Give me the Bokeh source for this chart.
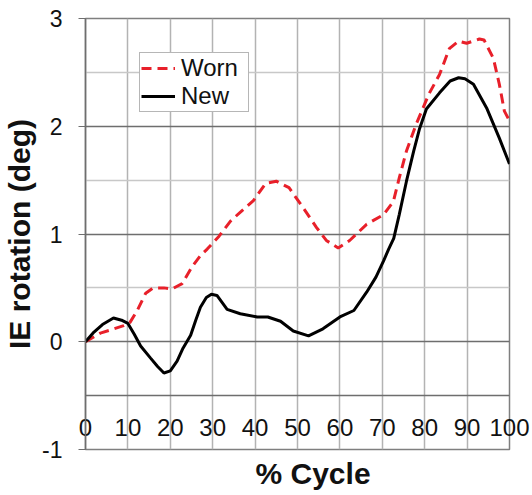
from bokeh.plotting import figure
from bokeh.models import (Range1d, FixedTicker, Grid, Legend, LegendItem, LinearAxis, Title)
from bokeh.embed import file_html
from bokeh.resources import INLINE

# ---- data ----
worn_x = [0, 3.5, 6, 9, 10.5, 12.2, 14.2, 16, 18.5, 20.4, 22.8, 25.2, 27.1, 28.7, 31.5, 34.2, 37, 39.6,
          42.5, 45, 48, 51.4, 54.5, 56.8, 59.6, 62.3, 66.3, 70.3, 72.6, 74, 75.7, 78, 81, 83.5, 85.8,
          88, 89.9, 92.9, 94, 96.2, 97.6, 98.8, 100]
worn_y = [0.0, 0.08, 0.11, 0.15, 0.18, 0.29, 0.45, 0.5, 0.5, 0.49, 0.54, 0.7, 0.8, 0.86, 0.98, 1.12, 1.22, 1.31,
          1.47, 1.49, 1.43, 1.24, 1.06, 0.94, 0.87, 0.94, 1.09, 1.18, 1.3, 1.52, 1.77, 2.02, 2.3, 2.48, 2.72,
          2.79, 2.77, 2.81, 2.8, 2.63, 2.39, 2.14, 2.05]

new_x = [0, 2, 4, 6.6, 8.5, 10, 11.5, 13, 15.3, 17, 18.5, 20, 21.6, 23, 24.8, 26, 27.1, 28.5, 29.7, 31, 33.4,
         36.5, 40.5, 43, 46, 49, 52.6, 56, 60, 63.3, 66.3, 68.5, 70.3, 71.5, 72.7, 74, 75.7, 77.4, 78.8,
         80.4, 83.5, 86, 88, 89.5, 91.5, 94.6, 97.6, 100]
new_y = [0.0, 0.09, 0.16, 0.22, 0.2, 0.17, 0.07, -0.04, -0.15, -0.23, -0.29, -0.27, -0.18, -0.06, 0.06, 0.2, 0.32, 0.41, 0.44, 0.43, 0.3,
         0.26, 0.23, 0.23, 0.19, 0.1, 0.055, 0.12, 0.23, 0.29, 0.46, 0.6, 0.75, 0.86, 0.96, 1.18, 1.49, 1.77, 1.98,
         2.16, 2.31, 2.42, 2.45, 2.44, 2.39, 2.17, 1.89, 1.65]

x_ticks = [0, 10, 20, 30, 40, 50, 60, 70, 80, 90, 100]
y_ticks = [-1, 0, 1, 2, 3]
y_major_grid = [-1, 0, 1, 2, 3]
y_minor_grid = [0.5, 1.5, 2.5]
x_axis_cross = -0.5

FONT = "Liberation Sans"
TXT = "#111111"
AXC = "#6e6e6e"

p = figure(width=532, height=495, output_backend="svg", toolbar_location=None,
           x_range=Range1d(0, 100), y_range=Range1d(-1, 3), x_axis_location=None,
           min_border_left=85, min_border_right=23, min_border_top=18, min_border_bottom=46)
p.outline_line_color = "#7f7f7f"
p.outline_line_width = 1.5
p.background_fill_color = "white"
p.border_fill_color = "white"

# grids
p.xgrid.ticker = FixedTicker(ticks=x_ticks)
p.xgrid.grid_line_color = "#b3b3b3"
p.xgrid.grid_line_width = 1.5
p.ygrid.ticker = FixedTicker(ticks=y_major_grid)
p.ygrid.grid_line_color = AXC
p.ygrid.grid_line_width = 1.5
minor = Grid(dimension=1, ticker=FixedTicker(ticks=y_minor_grid),
             grid_line_color="#c8c8c8", grid_line_width=1.3)
p.add_layout(minor)

# y axis
ya = p.yaxis[0]
ya.ticker = FixedTicker(ticks=y_ticks)
ya.major_label_overrides = {-1: "-1"}
ya.axis_label = "IE rotation (deg)"
ya.axis_label_text_font = FONT
ya.axis_label_text_font_style = "bold"
ya.axis_label_text_font_size = "30px"
ya.axis_label_text_color = TXT
ya.axis_label_standoff = 3
ya.major_label_text_font = FONT
ya.major_label_text_font_size = "23px"
ya.major_label_text_color = TXT
ya.major_label_standoff = 16
ya.major_tick_out = 7
ya.major_tick_in = 0
ya.minor_tick_out = 0
ya.minor_tick_in = 0
ya.major_tick_line_color = AXC
ya.axis_line_color = AXC
ya.axis_line_width = 1.5

# horizontal axis line crossing inside the plot at y = -0.5
xline = LinearAxis(fixed_location=x_axis_cross, ticker=FixedTicker(ticks=x_ticks))
xline.major_label_text_font_size = "1px"
xline.major_label_text_color = None
xline.major_tick_out = 0
xline.major_tick_in = 0
xline.minor_tick_out = 0
xline.minor_tick_in = 0
xline.axis_line_color = AXC
xline.axis_line_width = 1.5
p.add_layout(xline, "below")

# x tick labels, pulled up just under the crossing line
xa = LinearAxis(ticker=FixedTicker(ticks=x_ticks))
xa.major_label_text_font = FONT
xa.major_label_text_font_size = "24px"
xa.major_label_text_color = TXT
xa.major_label_standoff = -31
xa.major_tick_out = 0
xa.major_tick_in = 0
xa.minor_tick_out = 0
xa.minor_tick_in = 0
xa.axis_line_color = None
p.add_layout(xa, "below")

xt = Title(text="% Cycle", align="left", offset=170, text_font=FONT, text_font_style="bold",
           text_font_size="30px", text_color=TXT, standoff=11)
p.add_layout(xt, "below")

r_worn = p.line(worn_x, worn_y, line_color="#e8202a", line_width=3, line_dash="10 6")
r_new = p.line(new_x, new_y, line_color="black", line_width=3)

legend = Legend(items=[LegendItem(label="Worn", renderers=[r_worn]),
                       LegendItem(label="New", renderers=[r_new])],
                location=(54, 337))
legend.label_text_font = FONT
legend.label_text_font_size = "24px"
legend.label_text_color = TXT
legend.border_line_color = AXC
legend.border_line_width = 1.5
legend.glyph_width = 34
legend.glyph_height = 20
legend.label_standoff = 6
legend.label_height = 20
legend.label_width = 66
legend.spacing = -3
legend.padding = 1
legend.margin = 0
legend.background_fill_alpha = 1
p.add_layout(legend)

open("out.html", "w").write(file_html(p, INLINE))
